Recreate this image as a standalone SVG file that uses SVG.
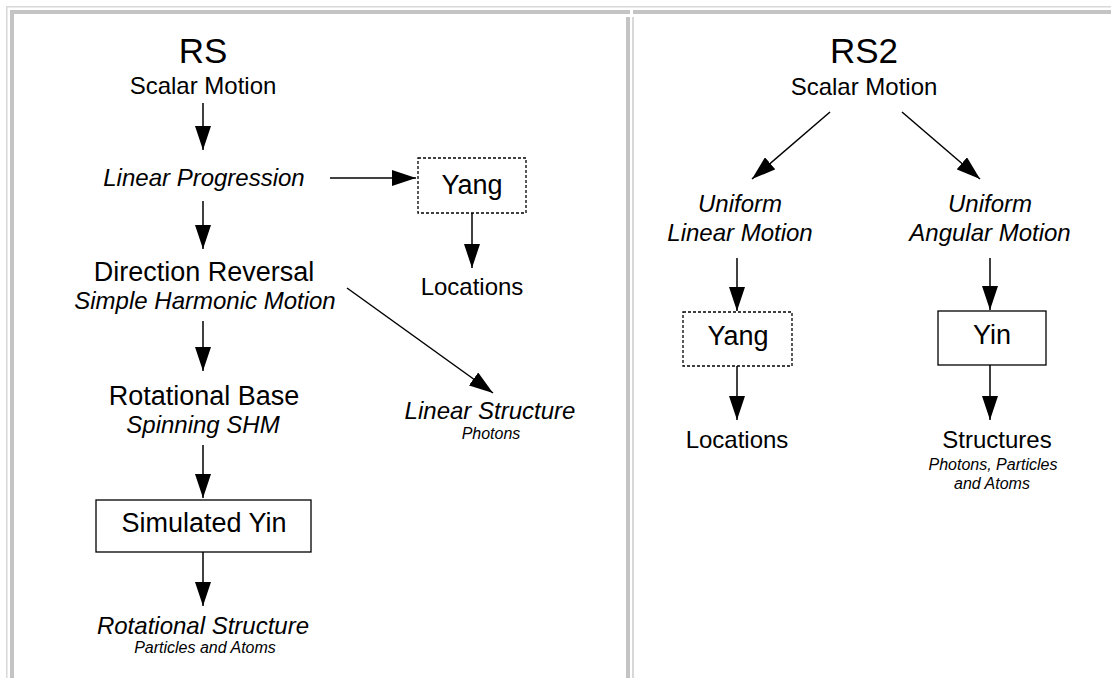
<svg xmlns="http://www.w3.org/2000/svg" width="1111" height="678" viewBox="0 0 1111 678">
<style>
text{font-family:"Liberation Sans",Arial,sans-serif;fill:#000;text-anchor:middle}
.t1{font-size:35px}
.t2{font-size:24px}
.t3{font-size:27px}
.i{font-style:italic;font-size:24px}
.s{font-style:italic;font-size:16px}
.c{stroke:#000;stroke-width:1.5;fill:none;marker-end:url(#ah)}
.box{fill:#fff;stroke:#000;stroke-width:1.3}
.dash{fill:#fff;stroke:#000;stroke-width:1.3;stroke-dasharray:3 2}
.fr{fill:#c4c4c4}
.fl{fill:#d8d8d8}
</style>
<defs>
<marker id="ah" markerUnits="userSpaceOnUse" markerWidth="24" markerHeight="16" refX="24" refY="8" orient="auto">
<path d="M0,0 L24,8 L0,16 z" fill="#000"/>
</marker>
</defs>
<rect width="1111" height="678" fill="#fff"/>
<g id="frame">
<rect class="fl" x="6" y="6" width="1105" height="1.5"/>
<rect class="fl" x="6" y="6" width="1.5" height="672"/>
<rect class="fr" x="10" y="10" width="620" height="4"/>
<rect class="fr" x="633" y="10" width="478" height="4"/>
<rect class="fr" x="10" y="10" width="4" height="668"/>
<rect class="fr" x="626" y="17" width="4" height="661"/>
<rect class="fl" x="632" y="17" width="2" height="661"/>
</g>
<g id="connectors">
<line class="c" x1="203" y1="103" x2="203" y2="150"/>
<line class="c" x1="330" y1="178" x2="416" y2="178"/>
<line class="c" x1="472" y1="213" x2="472" y2="268"/>
<line class="c" x1="203" y1="201" x2="203" y2="249"/>
<line class="c" x1="347" y1="288" x2="493" y2="393"/>
<line class="c" x1="203" y1="321" x2="203" y2="371"/>
<line class="c" x1="203" y1="445" x2="203" y2="498"/>
<line class="c" x1="203" y1="552" x2="203" y2="606"/>
<line class="c" x1="830" y1="112" x2="752" y2="179"/>
<line class="c" x1="902" y1="112" x2="980" y2="179"/>
<line class="c" x1="737" y1="258" x2="737" y2="311"/>
<line class="c" x1="737" y1="366" x2="737" y2="420"/>
<line class="c" x1="990" y1="258" x2="990" y2="310"/>
<line class="c" x1="990" y1="365" x2="990" y2="420"/>
</g>
<g id="rs"><text class="t1" x="203" y="63">RS</text><text class="t2" x="203" y="94">Scalar Motion</text></g>
<g id="linear-progression"><text class="i" x="204" y="186">Linear Progression</text></g>
<g id="yang1"><rect class="dash" x="418" y="158" width="108" height="55"/><text class="t3" x="472" y="194">Yang</text></g>
<g id="locations1"><text class="t2" x="472" y="295">Locations</text></g>
<g id="direction-reversal"><text class="t3" x="204" y="281">Direction Reversal</text><text class="i" x="205" y="309">Simple Harmonic Motion</text></g>
<g id="linear-structure"><text class="i" x="490" y="419">Linear Structure</text><text class="s" x="491" y="439">Photons</text></g>
<g id="rotational-base"><text class="t3" x="204" y="405">Rotational Base</text><text class="i" x="203" y="433">Spinning SHM</text></g>
<g id="simulated-yin"><rect class="box" x="96" y="500" width="215" height="52"/><text class="t3" x="204" y="532">Simulated Yin</text></g>
<g id="rotational-structure"><text class="i" x="203" y="634">Rotational Structure</text><text class="s" x="205" y="653">Particles and Atoms</text></g>
<g id="rs2"><text class="t1" x="864" y="63">RS2</text><text class="t2" x="864" y="95">Scalar Motion</text></g>
<g id="uniform-linear"><text class="i" x="740" y="212">Uniform</text><text class="i" x="740" y="241">Linear Motion</text></g>
<g id="uniform-angular"><text class="i" x="990" y="212">Uniform</text><text class="i" x="990" y="241">Angular Motion</text></g>
<g id="yang2"><rect class="dash" x="683" y="312" width="109" height="54"/><text class="t3" x="738" y="345">Yang</text></g>
<g id="locations2"><text class="t2" x="737" y="448">Locations</text></g>
<g id="yin"><rect class="box" x="938" y="311" width="108" height="54"/><text class="t3" x="992" y="344">Yin</text></g>
<g id="structures"><text class="t2" x="997" y="448">Structures</text><text class="s" x="993" y="470">Photons, Particles</text><text class="s" x="992" y="489">and Atoms</text></g>
</svg>
